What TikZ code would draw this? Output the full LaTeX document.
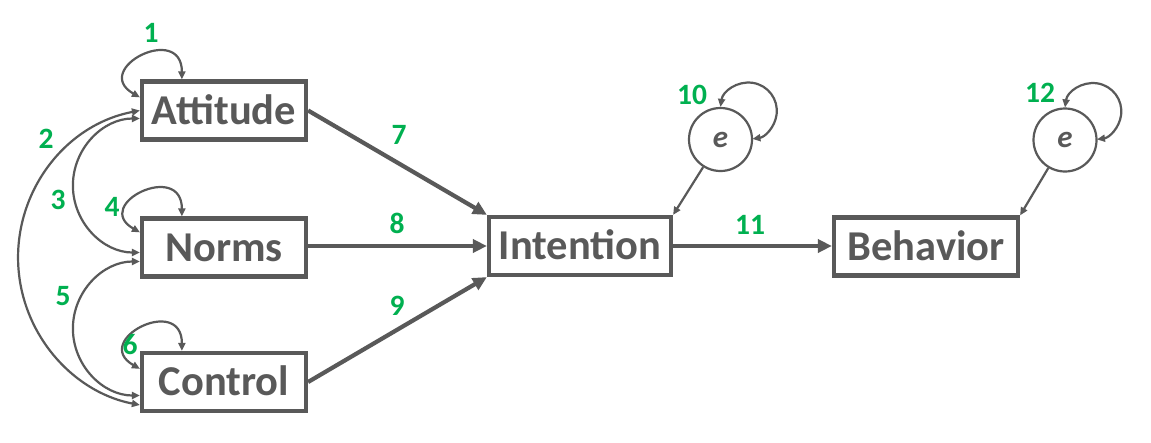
\documentclass[tikz,border=0pt]{standalone}
\usepackage{fontspec}
\setmainfont{Carlito}
\usetikzlibrary{arrows.meta}
\definecolor{dg}{HTML}{595959}
\definecolor{gn}{HTML}{00B050}
\begin{document}
\begin{tikzpicture}[x=1pt,y=1pt,
  box/.style={draw=dg, line width=4.2pt, minimum width=#1, minimum height=58pt,
    inner sep=0pt, text=dg, text height=27.5pt, text depth=0pt,
    font=\fontsize{42.5}{42.5}\selectfont\bfseries},
  errc/.style={circle, draw=dg, line width=2.2pt, minimum size=63pt, inner sep=0pt,
    text=dg, font=\fontsize{31}{31}\selectfont\bfseries\itshape},
  lab/.style={text=gn, inner sep=0pt, font=\fontsize{29.5}{29.5}\selectfont\bfseries},
  mainarr/.style={draw=dg, line width=4.2pt, -{Triangle[length=14pt,width=13pt]}},
  thinarr/.style={draw=dg, line width=2.2pt, -{Triangle[length=8pt,width=7pt]}},
  cov/.style={draw=dg, line width=2.2pt, {Triangle[length=8pt,width=7pt]}-{Triangle[length=8pt,width=7pt]}}
]
\fill[white] (0,0) rectangle (1151,-442);
\useasboundingbox (0,0) rectangle (1151,-442);

% boxes
\node[box=164pt] (att) at (224,-110.5) {Attitude};
\node[box=164pt] (nor) at (224,-247.5) {Norms};
\node[box=164pt] (con) at (224,-382) {Control};
\node[box=182pt] (int) at (580,-246) {Intention};
\node[box=184pt] (beh) at (926,-246.5) {Behavior};

% error terms
\node[errc] (e1) at (720.5,-139.5) {e};
\node[errc] (e2) at (1065,-140) {e};

% paths
\draw[mainarr] (att.east) -- (int.north west);
\draw[mainarr] (nor.east |- int.west) -- (int.west);
\draw[mainarr] (con.east) -- (int.south west);
\draw[mainarr] (int.east) -- (beh.west |- int.east);
\draw[thinarr] (e1) -- (int.north east);
\draw[thinarr] (e2) -- (beh.north east);

% variances (self loops)
\draw[cov] ([yshift=-18pt]att.north west) to[out=150,in=90,looseness=3.2] ([xshift=42pt]att.north west);
\draw[cov] ([yshift=-16pt]nor.north west) to[out=150,in=90,looseness=3.2] ([xshift=42pt]nor.north west);
\draw[cov] ([yshift=-18pt]con.north west) to[out=150,in=90,looseness=3.2] ([xshift=42pt]con.north west);
\draw[cov] (e1.north) arc[start angle=172, end angle=-82, radius=28.3];
\draw[cov] (e2.north) arc[start angle=172, end angle=-82, radius=28.3];

% covariances
\draw[cov] (att.west) arc[start angle=100.8, end angle=259.2, radius=149.9];
\draw[cov] ([yshift=-8pt]att.west) arc[start angle=90, end angle=270, radius=67];
\draw[cov] ([yshift=-14pt]nor.west) arc[start angle=90, end angle=270, radius=67];

% labels
\node[lab] (l1) at (151,-33) {1};
\node[lab] (l2) at (46,-139) {2};
\node[lab] (l3) at (58,-200) {3};
\node[lab] (l4) at (112,-207) {4};
\node[lab] (l5) at (63,-296) {5};
\node[lab] (l6) at (130,-345) {6};
\node[lab] (l7) at (399,-135) {7};
\node[lab] (l8) at (397,-223) {8};
\node[lab] (l9) at (397,-306) {9};
\node[lab] (l10) at (692,-95) {10};
\node[lab] (l11) at (750,-225) {11};
\node[lab] (l12) at (1040,-93) {12};
\end{tikzpicture}
\end{document}
